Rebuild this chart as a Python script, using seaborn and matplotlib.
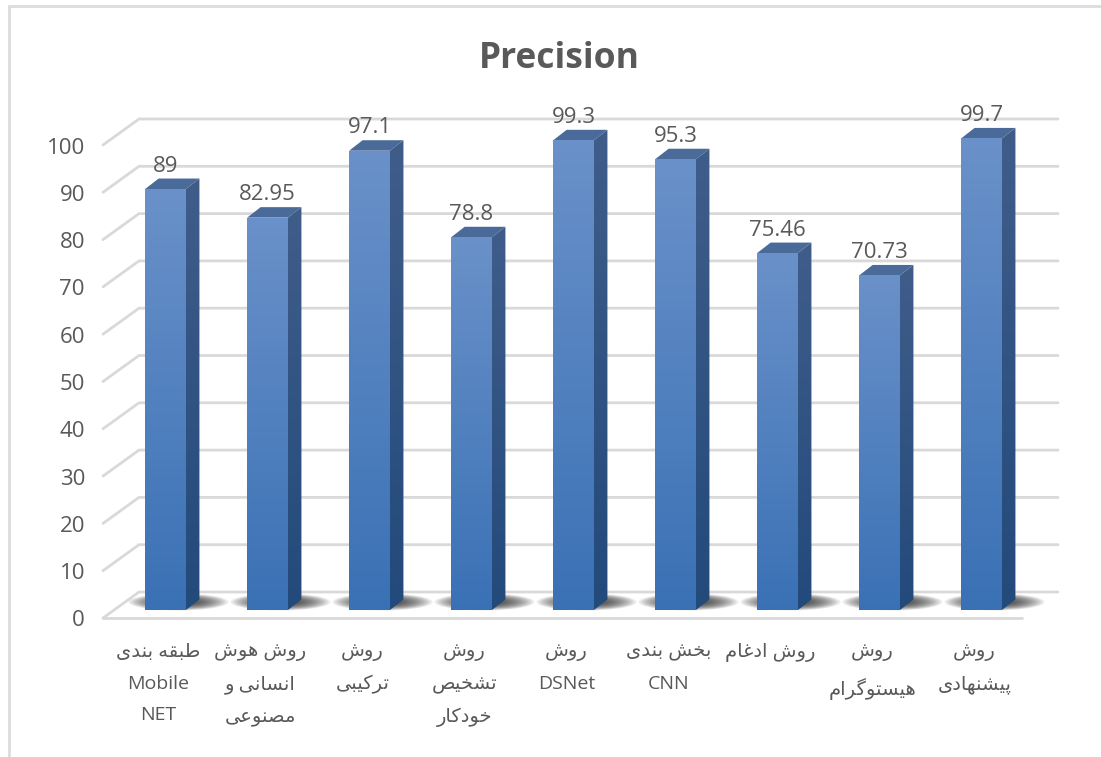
import matplotlib
matplotlib.use("Agg")
import matplotlib.pyplot as plt
from matplotlib.lines import Line2D
from matplotlib.patches import Ellipse, Polygon
from matplotlib.transforms import ScaledTranslation
import numpy as np
import pandas as pd
import seaborn as sns

sns.set_theme(style="white")
plt.rcParams['font.family'] = ['Open Sans', 'DejaVu Sans']

# Data
methods = ["طبقه بندی\nMobile\nNET", "روش هوش\nانسانی و\nمصنوعی", "روش\nترکیبی",
           "روش\nتشخیص\nخودکار", "روش\nDSNet", "بخش بندی\nCNN", "روش ادغام",
           "روش\nهیستوگرام", "روش\nپیشنهادی"]
precision = [89, 82.95, 97.1, 78.8, 99.3, 95.3, 75.46, 70.73, 99.7]
value_labels = ["89", "82.95", "97.1", "78.8", "99.3", "95.3", "75.46", "70.73", "99.7"]
y_ticks = [0, 10, 20, 30, 40, 50, 60, 70, 80, 90, 100]

TEXT = "#595959"
GRID = "#d9d9d9"

# Persian letter forms: isolated, final, initial, medial
FORMS = {
    "ا": (0xFE8D, 0xFE8E), "د": (0xFEA9, 0xFEAA), "ر": (0xFEAD, 0xFEAE), "و": (0xFEED, 0xFEEE),
    "ب": (0xFE8F, 0xFE90, 0xFE91, 0xFE92), "پ": (0xFB56, 0xFB57, 0xFB58, 0xFB59),
    "ت": (0xFE95, 0xFE96, 0xFE97, 0xFE98), "خ": (0xFEA5, 0xFEA6, 0xFEA7, 0xFEA8),
    "س": (0xFEB1, 0xFEB2, 0xFEB3, 0xFEB4), "ش": (0xFEB5, 0xFEB6, 0xFEB7, 0xFEB8),
    "ص": (0xFEB9, 0xFEBA, 0xFEBB, 0xFEBC), "ط": (0xFEC1, 0xFEC2, 0xFEC3, 0xFEC4),
    "ع": (0xFEC9, 0xFECA, 0xFECB, 0xFECC), "غ": (0xFECD, 0xFECE, 0xFECF, 0xFED0),
    "ق": (0xFED5, 0xFED6, 0xFED7, 0xFED8), "ک": (0xFB8E, 0xFB8F, 0xFB90, 0xFB91),
    "گ": (0xFB92, 0xFB93, 0xFB94, 0xFB95), "م": (0xFEE1, 0xFEE2, 0xFEE3, 0xFEE4),
    "ن": (0xFEE5, 0xFEE6, 0xFEE7, 0xFEE8), "ه": (0xFEE9, 0xFEEA, 0xFEEB, 0xFEEC),
    "ی": (0xFBFC, 0xFBFD, 0xFBFE, 0xFBFF),
}


def shape_line(line):
    # matplotlib does no Arabic shaping, so join the letters and reverse by hand
    if not any(c in FORMS for c in line):
        return line
    out = []
    for i, c in enumerate(line):
        if c not in FORMS:
            out.append(c)
            continue
        prev = line[i - 1] if i > 0 else " "
        nxt = line[i + 1] if i + 1 < len(line) else " "
        joins_prev = prev in FORMS and len(FORMS[prev]) == 4
        joins_next = nxt in FORMS and len(FORMS[c]) == 4
        form = (2 if not joins_prev else 3) if joins_next else (1 if joins_prev else 0)
        out.append(chr(FORMS[c][form]))
    return "".join(reversed(out))


def shape(label):
    return "\n".join(shape_line(l) for l in label.split("\n"))


data = pd.DataFrame({"Method": methods, "Precision": precision})

fig = plt.figure(figsize=(11.01, 7.57), dpi=100)
# value 0 of the bars sits at y=610 px, value 100 at y=137 px
ax = fig.add_axes([103 / 1101, 1 - 610 / 757, (1058 - 103) / 1101, 473 / 757])
sns.barplot(data=data, x="Method", y="Precision", width=0.4, color="#4a7ebb", ax=ax,
            saturation=1, zorder=5)

unit_x = 1 / 102     # categories per pixel
unit_y = 100 / 473   # values per pixel
ax.set_xlim(-0.613, -0.613 + 955 * unit_x)
ax.set_ylim(0, 100)
ax.set_xlabel("")
ax.set_ylabel("")
sns.despine(ax=ax, left=True, bottom=True, top=True, right=True)

# Walls and floor behind the bars
x_front = ax.get_xlim()[0]
x_back = x_front + 36 * unit_x
x_end = ax.get_xlim()[1]
x_front_end = x_end - 36 * unit_x
back_up = 18 * unit_y
front_down = 8 * unit_y
for v in y_ticks:
    ax.plot([x_front, x_back, x_end], [v - front_down, v + back_up, v + back_up],
            color=GRID, lw=2, clip_on=False, zorder=1, solid_joinstyle="miter")
ax.plot([x_front, x_front_end], [-front_down, -front_down], color=GRID, lw=2,
        clip_on=False, zorder=1)

depth_x = 13.5 * unit_x
depth_y = 10.5 * unit_y
gradient = np.linspace(0, 1, 256).reshape(-1, 1)


def fill_gradient(patch, extent, top, bottom):
    cmap = matplotlib.colors.LinearSegmentedColormap.from_list("g", [top, bottom])
    im = ax.imshow(gradient, extent=extent, cmap=cmap, aspect="auto", interpolation="bilinear",
                   zorder=patch.get_zorder() + 0.1)
    im.set_clip_box(fig.bbox)
    im.set_clip_path(patch)


for bar, value, text in zip(ax.patches, precision, value_labels):
    x0, x1 = bar.get_x(), bar.get_x() + bar.get_width()

    # soft shadow on the floor
    for k in range(24):
        f = 1 - k / 24
        ax.add_patch(Ellipse(((x0 + x1) / 2 + 13 * unit_x, 8 * unit_y), 100 * unit_x * f,
                             17 * unit_y * f, color="#202020", alpha=0.075, lw=0,
                             clip_on=False, zorder=2))

    # side and top faces
    side = Polygon([(x1, 0), (x1 + depth_x, depth_y), (x1 + depth_x, value + depth_y), (x1, value)],
                   closed=True, facecolor="none", lw=0, clip_on=False, zorder=5)
    ax.add_patch(side)
    fill_gradient(side, (x1, x1 + depth_x, 0, value + depth_y), "#405d8a", "#224a7b")
    top = Polygon([(x0, value), (x1, value), (x1 + depth_x, value + depth_y), (x0 + depth_x, value + depth_y)],
                  closed=True, facecolor="#4a6b99", lw=0, clip_on=False, zorder=5)
    ax.add_patch(top)

    # front face
    bar.set_edgecolor("none")
    fill_gradient(bar, (x0, x1, 0, value), "#6a91c9", "#3a71b5")

    ax.text((x0 + x1) / 2, value + 23 * unit_y, text,
            ha="center", va="center", color=TEXT, fontsize=16, zorder=8)

ax.set_xlim(-0.613, -0.613 + 955 * unit_x)
ax.set_ylim(0, 100)

# Tick labels sit on the front edge of the floor
ax.set_yticks(y_ticks)
ax.tick_params(axis="y", length=0, pad=13, labelsize=16, labelcolor=TEXT)
down = ScaledTranslation(0, -8.5 / 100, fig.dpi_scale_trans)
for lab in ax.get_yticklabels():
    lab.set_transform(lab.get_transform() + down)

ax.set_xticks(range(len(methods)))
ax.set_xticklabels([shape(m) for m in methods], fontsize=14, color=TEXT, linespacing=1.97)
ax.tick_params(axis="x", length=0, pad=24)
left = ScaledTranslation(-7 / 100, 0, fig.dpi_scale_trans)
for lab in ax.get_xticklabels():
    lab.set_transform(lab.get_transform() + left)

fig.text(559 / 1101, 1 - 59 / 757, "Precision", fontsize=25.5, fontweight="bold", color=TEXT,
         ha="center", va="center")

# Frame of the screenshot
for xs, ys in [([9, 1101], [6, 6]), ([9, 9], [6, 757])]:
    fig.add_artist(Line2D([x / 1101 for x in xs], [1 - y / 757 for y in ys], color="#dcdcdc", lw=2))

fig.savefig("out.png", dpi=100)
plt.close()
